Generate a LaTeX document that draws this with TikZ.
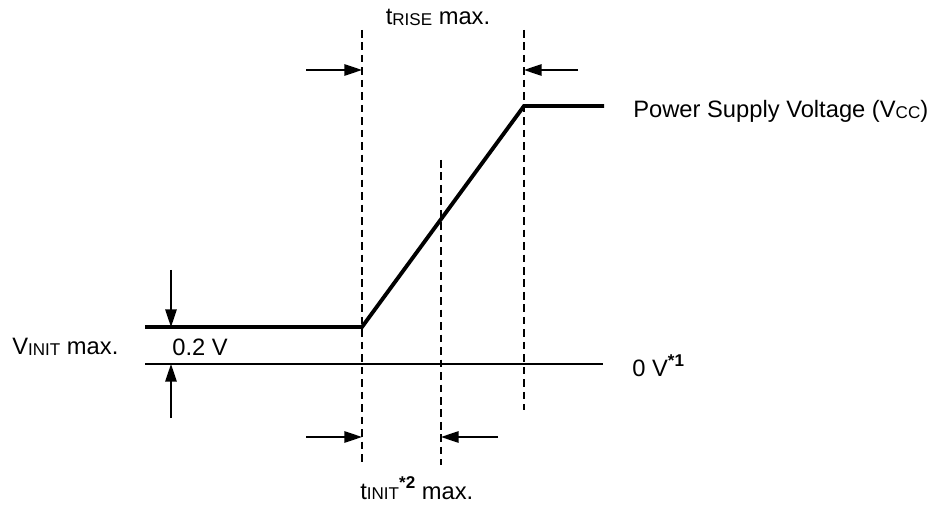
\documentclass[tikz,border=0pt]{standalone}
\usepackage{fontspec}
\setmainfont{Liberation Sans}
\usetikzlibrary{arrows.meta}
\newcommand{\lowsub}[1]{\raisebox{-0.5pt}{\fontsize{9.7}{11}\selectfont #1}}
\newcommand{\boldsup}[1]{\raisebox{0.8ex}{\fontsize{9.7}{11}\selectfont\bfseries #1}}
\begin{document}
\begin{tikzpicture}[x=0.02cm,y=-0.02cm,
  every node/.style={font=\fontsize{13.5}{16}\selectfont, inner sep=0pt},
  signal/.style={line width=2.2pt},
  baseline0/.style={line width=0.9pt},
  guide/.style={line width=0.9pt, dash pattern=on 4.3pt off 2.8pt},
  dimarrow/.style={line width=0.9pt, -{Triangle[length=10pt,width=6.5pt]}}]
\useasboundingbox (0,0) rectangle (936,506);
% guide lines
\coordinate (g1t) at (362,30);  \coordinate (g1b) at (362,466);
\coordinate (g2t) at (524,30);  \coordinate (g2b) at (524,410);
\coordinate (g3t) at (441,160); \coordinate (g3b) at (441,465);
\draw[guide] (g1t) -- (g1b);
\draw[guide] (g2t) -- (g2b);
\draw[guide] (g3t) -- (g3b);
% signal
\coordinate (s0) at (145,327);
\coordinate (s1) at (362,327);
\coordinate (s2) at (524,106);
\coordinate (s3) at (604,106);
\draw[signal, line join=miter] (s0) -- (s1) -- (s2) -- (s3);
% 0 V line
\coordinate (z0) at (145,364);
\coordinate (z1) at (603,364);
\draw[baseline0] (z0) -- (z1);
% top arrows
\coordinate (ta1) at (306,70); \coordinate (ta1e) at (362,70);
\coordinate (ta2) at (578,70); \coordinate (ta2e) at (524,70);
\draw[dimarrow] (ta1) -- (ta1e);
\draw[dimarrow] (ta2) -- (ta2e);
% bottom arrows
\coordinate (ba1) at (306,437); \coordinate (ba1e) at (362,437);
\coordinate (ba2) at (498,437); \coordinate (ba2e) at (441,437);
\draw[dimarrow] (ba1) -- (ba1e);
\draw[dimarrow] (ba2) -- (ba2e);
% vertical arrows
\coordinate (va1) at (171,270); \coordinate (va1e) at (171,327);
\coordinate (va2) at (171,418); \coordinate (va2e) at (171,364);
\draw[dimarrow] (va1) -- (va1e);
\draw[dimarrow] (va2) -- (va2e);
% labels
\node[anchor=base] (trise) at (438,25) {t\lowsub{RISE} max.};
\node[anchor=base west] (vcc) at (633,118) {Power Supply Voltage (V\lowsub{CC})};
\node[anchor=base west] (vinit) at (12,355) {V\lowsub{INIT} max.};
\node[anchor=base west] (v02) at (172,356) {0.2 V};
\node[anchor=base west] (zv) at (632,377) {0 V\boldsup{*1}};
\node[anchor=base west] (tinit) at (360,499) {t\lowsub{INIT}\boldsup{*2} max.};
\end{tikzpicture}
\end{document}
